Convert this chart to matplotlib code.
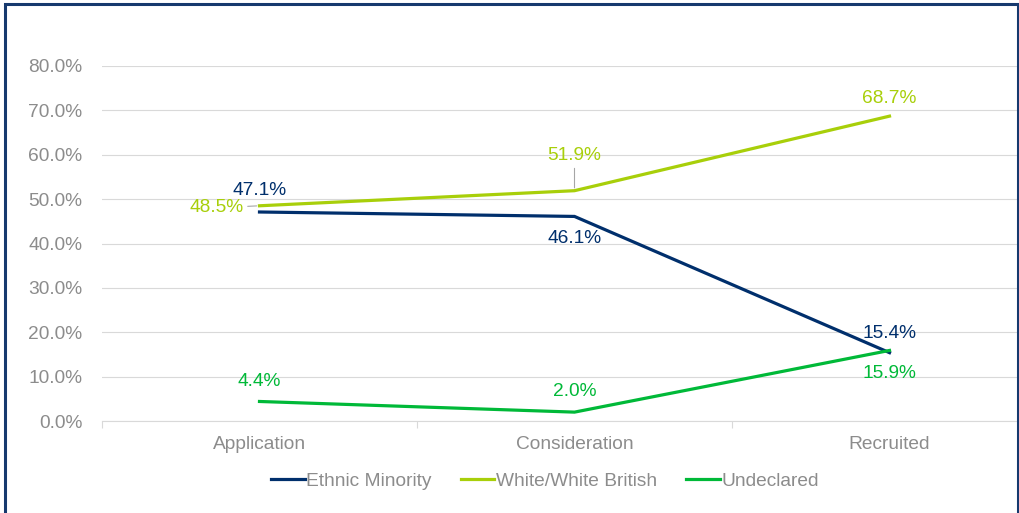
import matplotlib
matplotlib.use("Agg")
import matplotlib.pyplot as plt
from matplotlib.patches import Rectangle

categories = ["Application", "Consideration", "Recruited"]
ethnic_minority = [47.1, 46.1, 15.4]
white_british = [48.5, 51.9, 68.7]
undeclared = [4.4, 2.0, 15.9]
series_names = ["Ethnic Minority", "White/White British", "Undeclared"]
y_ticks = [0, 10, 20, 30, 40, 50, 60, 70, 80]

colors = ["#002F6C", "#A8CF0A", "#00B938"]
grey = "#8C8C8C"
fs = 13.8

plt.rcParams['font.family'] = ['Liberation Sans', 'DejaVu Sans']

fig = plt.figure(figsize=(10.2, 5.13), dpi=100)
ax = fig.add_axes([102/1020, 1-421/513, 945/1020, 355/513])

x = list(range(len(categories)))
all_series = [ethnic_minority, white_british, undeclared]
lines = []
for vals, c, name in zip(all_series, colors, series_names):
    ln, = ax.plot(x, vals, color=c, lw=2.3, label=name, solid_joinstyle='miter', zorder=3)
    lines.append(ln)

# label offsets in pixels (dx, dy)
offsets = [
    [(0, 21), (0, -22), (0, 19)],
    [(-43, -2), (0, 35), (0, 18)],
    [(0, 20), (0, 21), (0, -23)],
]
leaders = [
    [False, False, False],
    [True, True, False],
    [False, False, False],
]
for vals, c, offs, lds in zip(all_series, colors, offsets, leaders):
    for xi, v, off, ld in zip(x, vals, offs, lds):
        kw = {}
        if ld:
            kw['arrowprops'] = dict(arrowstyle='-', color='#A6A6A6', lw=0.8,
                                    shrinkA=1, shrinkB=2)
        ax.annotate(f"{v:.1f}%", xy=(xi, v), xytext=off, textcoords='offset pixels',
                    ha='center', va='center', color=c, fontsize=fs, zorder=4, **kw)

ax.set_xlim(-0.5, 2.5)
ax.set_ylim(0, 80)
ax.set_yticks(y_ticks)
ax.set_yticklabels([f"{t:.1f}%" for t in y_ticks])
ax.set_xticks(x)
ax.set_xticklabels(categories)
ax.set_xticks([-0.5, 0.5, 1.5, 2.5], minor=True)
ax.tick_params(axis='x', which='major', length=0, pad=11, labelsize=fs, labelcolor=grey)
ax.tick_params(axis='x', which='minor', length=5, width=0.8, color='#D9D9D9', direction='out')
ax.tick_params(axis='y', length=0, pad=14, labelsize=fs, labelcolor=grey)

ax.grid(axis='y', color='#D9D9D9', lw=0.8, zorder=0)
ax.set_axisbelow(True)
for s in ['top', 'right', 'left']:
    ax.spines[s].set_visible(False)
ax.spines['bottom'].set_color('#D9D9D9')
ax.spines['bottom'].set_linewidth(0.8)

fig.legend(handles=lines, loc='center', bbox_to_anchor=(545/1020, 1-481/513),
           ncol=3, frameon=False, fontsize=fs, labelcolor=grey,
           handlelength=1.75, handletextpad=0.1, columnspacing=1.5)

fig.patches.append(Rectangle((5/1020, -0.1), 1013/1020, 1.1 - 4/513,
                             transform=fig.transFigure, fill=False,
                             edgecolor='#16396E', lw=2.2, zorder=10))

fig.savefig("out.png", dpi=100)
